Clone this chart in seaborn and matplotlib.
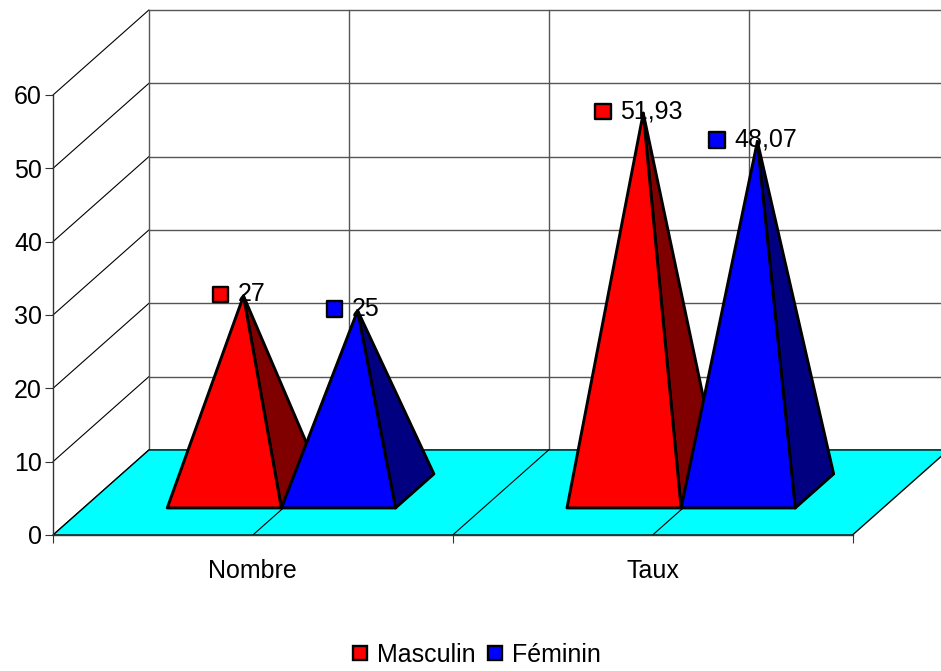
import numpy as np
import pandas as pd
import matplotlib.pyplot as plt
from matplotlib.lines import Line2D
import seaborn as sns

# Values
categories = ["Nombre", "Taux"]
series_names = ["Masculin", "Féminin"]
masculin = [27, 51.93]
feminin = [25, 48.07]
value_labels_m = ["27", "51,93"]
value_labels_f = ["25", "48,07"]
y_ticks = [0, 10, 20, 30, 40, 50, 60]

sns.set_style("white")
plt.rcParams["font.family"] = ["Liberation Sans", "DejaVu Sans"]
plt.rcParams["text.color"] = "black"
plt.rcParams["xtick.labelcolor"] = "black"
plt.rcParams["ytick.labelcolor"] = "black"

W, H = 941, 671
fig = plt.figure(figsize=(W / 100, H / 100), dpi=100)
ax = fig.add_axes([53 / W, (H - 535) / H, 799.5 / W, 440 / H])
ax.set_xlim(0, 2)
ax.set_ylim(0, 60)
ax.patch.set_visible(False)

# Oblique depth of the 3D box, in data units
DX = 0.24
DY = 11.6
PX = 2 / 799.5  # one pixel along x, in data units
PY = 60 / 440  # one pixel along y, in data units


def project(x, depth, value):
    return x + DX * depth, value + DY * depth


wall_color = "#555555"
thin = 0.8

# Back wall and left wall
for v in y_ticks:
    x0, y0 = project(0, 0, v)
    x1, y1 = project(0, 1, v)
    x2, y2 = project(2, 1, v)
    ax.plot([x0, x1], [y0, y1], color="black", lw=thin, clip_on=False, zorder=1)
    ax.plot([x1, x2], [y1, y2], color=wall_color, lw=thin + 0.2, clip_on=False, zorder=1)
for x in [0, 0.5, 1, 1.5, 2]:
    x1, y1 = project(x, 1, 0)
    x2, y2 = project(x, 1, 60)
    ax.plot([x1, x2], [y1, y2], color=wall_color, lw=thin + 0.2, clip_on=False, zorder=1)

# Floor
floor = [project(0, 0, 0), project(2, 0, 0), project(2, 1, 0), project(0, 1, 0)]
ax.fill(*zip(*floor), facecolor="#00FFFF", edgecolor="black", lw=thin + 0.2, clip_on=False, zorder=2)
for x in [0.5, 1, 1.5]:
    x0, y0 = project(x, 0, 0)
    x1, y1 = project(x, 1, 0)
    ax.plot([x0, x1], [y0, y1], color="black", lw=thin, clip_on=False, zorder=2)

# Pyramids
BASE_W = 0.2855
D_FRONT = 0.318
D_BACK = 0.718
colors = {"Masculin": ("#FF0000", "#800000"), "Féminin": ("#0000FF", "#000080")}
rows = []
z = 3
renderer = fig.canvas.get_renderer()
for i, cat in enumerate(categories):
    cx = i + 0.5 - 2 * PX
    for name, vals, labels, x_left in [
        ("Masculin", masculin, value_labels_m, cx - BASE_W),
        ("Féminin", feminin, value_labels_f, cx),
    ]:
        front, side = colors[name]
        fl = project(x_left, D_FRONT, 0)
        fr = project(x_left + BASE_W, D_FRONT, 0)
        br = project(x_left + BASE_W, D_BACK, 0)
        top = project(x_left + BASE_W / 2, (D_FRONT + D_BACK) / 2, vals[i])
        apex = (top[0], top[1] - 3 * PY)
        ax.fill(*zip(fr, br, apex), facecolor=side, edgecolor="black", lw=2.1,
                joinstyle="round", clip_on=False, zorder=z)
        ax.fill(*zip(fl, fr, apex), facecolor=front, edgecolor="black", lw=2.1,
                joinstyle="round", clip_on=False, zorder=z + 1)
        z += 2
        label_y = top[1] - 1.5 * PY
        txt = ax.text(top[0] + 8 * PX, label_y, labels[i], fontsize=18, va="center",
                      ha="center", color="black", zorder=30, clip_on=False)
        # square key sits just left of the label text
        left_px = txt.get_window_extent(renderer).x0
        key_x = ax.transData.inverted().transform((left_px - 17, 0))[0]
        rows.append({"x": key_x, "y": label_y, "serie": name})

labels_df = pd.DataFrame(rows)
sns.scatterplot(data=labels_df, x="x", y="y", hue="serie", marker="s", s=120,
                palette={k: v[0] for k, v in colors.items()}, edgecolor="black",
                linewidth=1.7, legend=False, clip_on=False, zorder=31, ax=ax)
ax.set_xlabel("")
ax.set_ylabel("")
ax.set_xlim(0, 2)
ax.set_ylim(0, 60)

# Axes
for s in ["top", "right"]:
    ax.spines[s].set_visible(False)
for s in ["left", "bottom"]:
    ax.spines[s].set_color("#333333")
    ax.spines[s].set_linewidth(1.0)
    ax.spines[s].set_zorder(5)
ax.set_yticks(y_ticks)
ax.set_xticks([0, 1, 2])
ax.set_xticklabels([])
ax.set_xticks(np.arange(len(categories)) + 0.5, minor=True)
ax.set_xticklabels(categories, minor=True)
ax.tick_params(axis="y", which="major", left=True, length=6, width=0.8, color="#333333",
               labelsize=18, pad=2)
ax.tick_params(axis="x", which="major", bottom=True, length=6, width=0.8, color="#333333")
ax.tick_params(axis="x", which="minor", bottom=False, length=0, labelsize=18, pad=17)

# Legend
handles = [
    Line2D([], [], linestyle="none", marker="s", markersize=10.5, markerfacecolor=colors[n][0],
           markeredgecolor="black", markeredgewidth=1.7, label=n)
    for n in series_names
]
fig.legend(handles=handles, loc="center", bbox_to_anchor=(476 / W, (H - 655) / H), ncol=2,
           frameon=False, fontsize=18, handlelength=0.7, handletextpad=0.35,
           columnspacing=0.4, borderpad=0, labelcolor="black")

fig.savefig("out.png", dpi=100)
